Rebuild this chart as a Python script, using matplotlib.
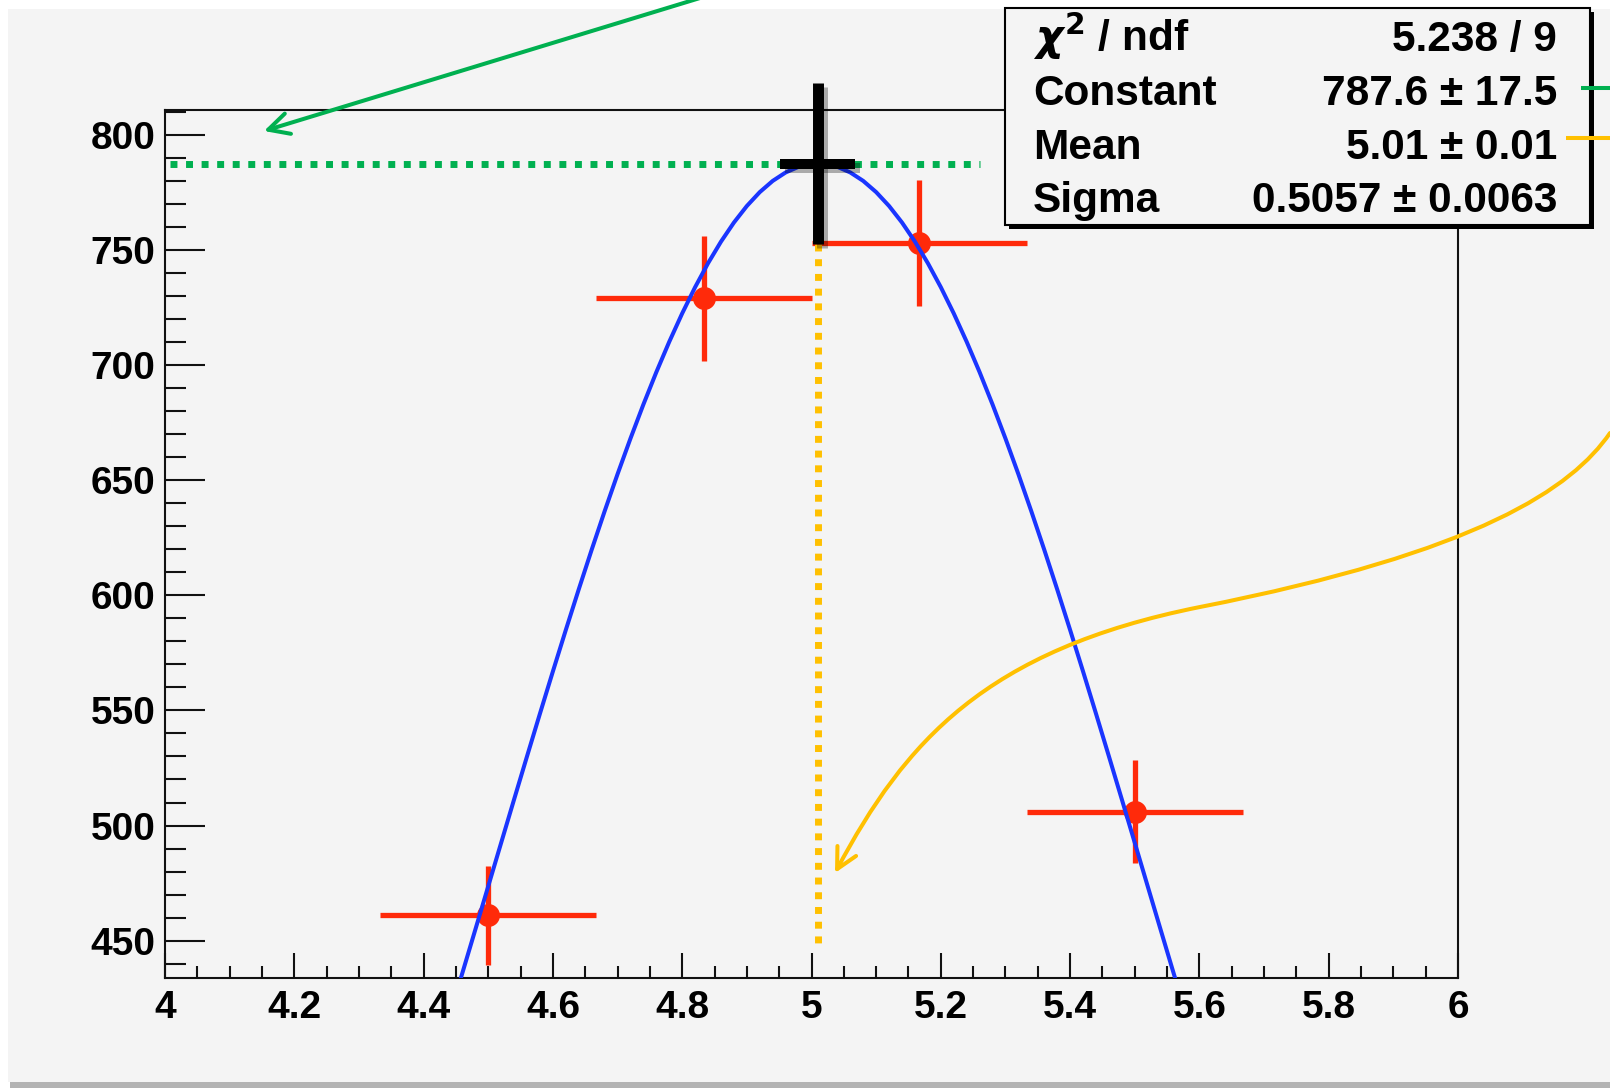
import numpy as np
import matplotlib
matplotlib.use("Agg")
import matplotlib.pyplot as plt
from matplotlib.patches import Rectangle, FancyArrowPatch
from matplotlib.path import Path
import matplotlib.patheffects as pe

# ---- histogram contents (visible bins) ----
bin_low = [4.3333, 4.6667, 5.0, 5.3333]
bin_high = [4.6667, 5.0, 5.3333, 5.6667]
counts = [461, 729, 753, 506]

# ---- Gaussian fit result ----
fit_constant = 787.6
fit_constant_err = 17.5
fit_mean = 5.01
fit_mean_err = 0.01
fit_sigma = 0.5057
fit_sigma_err = 0.0063
chi2 = 5.238
ndf = 9

# ---- axis ticks ----
x_ticks = [4.0, 4.2, 4.4, 4.6, 4.8, 5.0, 5.2, 5.4, 5.6, 5.8, 6.0]
x_tick_labels = ["4", "4.2", "4.4", "4.6", "4.8", "5", "5.2", "5.4", "5.6", "5.8", "6"]
y_ticks = [450, 500, 550, 600, 650, 700, 750, 800]
y_tick_labels = ["450", "500", "550", "600", "650", "700", "750", "800"]

RED = "#ff2a0a"
BLUE = "#1a35ff"
GREEN = "#00b050"
GOLD = "#ffc000"
PANEL = "#f4f4f4"

plt.rcParams["font.family"] = ["Liberation Sans", "DejaVu Sans"]
plt.rcParams["font.weight"] = "bold"
plt.rcParams["mathtext.fontset"] = "dejavusans"

W, H = 1610, 1088
fig = plt.figure(figsize=(W / 100, H / 100), dpi=100)
fig.patch.set_facecolor("white")


def fr(x, y):
    """pixel position (origin top-left) -> figure fraction"""
    return x / W, 1 - y / H


# canvas panel and its lower shadow strip
fig.add_artist(Rectangle(fr(8, 1082), (W - 8) / W, (1082 - 9) / H,
                         transform=fig.transFigure, fc=PANEL, ec="none", zorder=-2))
fig.add_artist(Rectangle(fr(10, H), (W - 10) / W, 6 / H,
                         transform=fig.transFigure, fc="#b3b3b3", ec="none", zorder=-2))

# ---- main frame ----
left, right, top, bottom = 165, 1458, 110, 978
ax = fig.add_axes([left / W, 1 - bottom / H, (right - left) / W, (bottom - top) / H])
ax.set_facecolor(PANEL)
ax.set_xlim(4.0, 6.0)
ax.set_ylim(433.75, 810.9)
for sp in ax.spines.values():
    sp.set_linewidth(1.5)
    sp.set_color("#111111")

ax.set_xticks(x_ticks, x_tick_labels)
ax.set_yticks(y_ticks, y_tick_labels)
ax.set_xticks(np.arange(4.0, 6.001, 0.05), minor=True)
ax.set_yticks(np.arange(440, 811, 10), minor=True)
ax.tick_params(which="both", direction="in", top=False, right=False, width=1.5,
               color="#111111", labelsize=28)
ax.tick_params(axis="x", which="major", length=18, pad=8.5)
ax.tick_params(axis="x", which="minor", length=9)
ax.tick_params(axis="y", which="major", length=29, pad=7)
ax.tick_params(axis="y", which="minor", length=15)

# ---- data points with errors ----
centers = [(a + b) / 2 for a, b in zip(bin_low, bin_high)]
xerr = [[c - a for c, a in zip(centers, bin_low)], [b - c for c, b in zip(centers, bin_high)]]
yerr = np.sqrt(counts)
ax.errorbar(centers, counts, xerr=xerr, yerr=yerr, fmt="o", color=RED, ms=15.5,
            elinewidth=3.8, capsize=0, zorder=3)

# ---- fitted Gaussian ----
xf = np.linspace(4.0, 6.0, 101)
yf = fit_constant * np.exp(-0.5 * ((xf - fit_mean) / fit_sigma) ** 2)
ax.plot(xf, yf, color=BLUE, lw=2.9, zorder=4)

# ---- guide lines at the fitted peak ----
ax.plot([4.008, 5.26], [fit_constant, fit_constant], color=GREEN, lw=5,
        dashes=(1, 1.24), solid_capstyle="butt", zorder=5)
ax.plot([fit_mean, fit_mean], [fit_constant - 2 * fit_constant_err, 446.4], color=GOLD,
        lw=5, dashes=(1, 1.12), zorder=5)

shadow = [pe.SimpleLineShadow(offset=(3, -3), shadow_color="k", alpha=0.3), pe.Normal()]
ax.plot([fit_mean, fit_mean],
        [fit_constant - 2 * fit_constant_err, fit_constant + 2 * fit_constant_err],
        color="k", lw=7.9, solid_capstyle="butt", clip_on=False, zorder=7,
        path_effects=shadow)
ax.plot([fit_mean - 0.058, fit_mean + 0.058], [fit_constant, fit_constant],
        color="k", lw=7.2, solid_capstyle="butt", clip_on=False, zorder=7,
        path_effects=shadow)

# ---- overlay in pixel coordinates: stats box and call-out arrows ----
ov = fig.add_axes([0, 0, 1, 1], zorder=5)
ov.set_xlim(0, W)
ov.set_ylim(H, 0)
ov.axis("off")
ov.patch.set_visible(False)

bx0, by0, bx1, by1 = 1005, 8, 1590, 225
ov.add_patch(Rectangle((bx0 + 4, by0 + 4), bx1 - bx0, by1 - by0, fc="k", ec="none"))
ov.add_patch(Rectangle((bx0, by0), bx1 - bx0, by1 - by0, fc=PANEL, ec="k", lw=1.5))

row_labels = [r"$\chi^{2}$ / ndf", "Constant", "Mean", "Sigma"]
row_values = [f"{chi2:.3f} / {ndf}",
              f"{fit_constant:.1f} ± {fit_constant_err:.1f}",
              f"{fit_mean:.2f} ± {fit_mean_err:.2f}",
              f"{fit_sigma:.4f} ± {fit_sigma_err:.4f}"]
baselines = [51, 105, 159, 212]
for lab, val, yb in zip(row_labels, row_values, baselines):
    ov.text(1033, yb, lab, fontsize=30.5, ha="left", va="baseline")
    ov.text(1557, yb, val, fontsize=30.5, ha="right", va="baseline")

# short leader stubs beside the box
ov.plot([1581, W], [88, 88], color=GREEN, lw=2.9, solid_capstyle="butt", clip_on=False)
ov.plot([1566, W], [138, 138], color=GOLD, lw=2.9, solid_capstyle="butt", clip_on=False)

# green arrow pointing at the top-left of the frame
ov.add_patch(FancyArrowPatch((700, -2), (264, 131),
                             arrowstyle="->,head_length=14.8,head_width=7.6",
                             mutation_scale=1, color=GREEN, lw=2.9,
                             shrinkA=0, shrinkB=0, clip_on=False))

# gold curved arrow pointing at the mean line
verts = [(1610, 433), (1572, 488), (1480, 552), (1200, 607),
         (985, 650), (905, 742), (835, 873)]
codes = [Path.MOVETO, Path.CURVE4, Path.CURVE4, Path.CURVE4,
         Path.CURVE4, Path.CURVE4, Path.CURVE4]
ov.add_patch(FancyArrowPatch(path=Path(verts, codes),
                             arrowstyle="->,head_length=14.8,head_width=7.6",
                             mutation_scale=1, color=GOLD, lw=2.9, clip_on=False))

fig.savefig("out.png", dpi=100, facecolor="white")
